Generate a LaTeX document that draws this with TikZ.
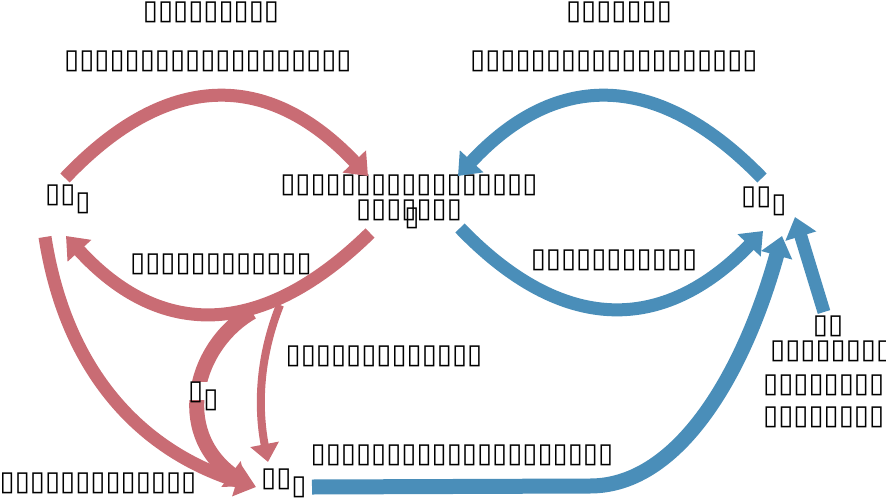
\documentclass[tikz,border=0pt]{standalone}
\usepackage{fontspec}
\usetikzlibrary{arrows.meta}
\newfontfamily\dvfont{DejaVu Sans}
\definecolor{redc}{HTML}{C96C74}
\definecolor{bluec}{HTML}{4A8EB9}
\newcommand\subbox{\raisebox{-8pt}{▯}}
\begin{document}
\begin{tikzpicture}[x=1pt,y=-1pt,
  lbl/.style={font=\dvfont\fontsize{27.5}{30}\selectfont, inner sep=0pt, text=black, text height=16pt, text depth=0pt},
  redarr/.style={draw=redc, line width=13pt, -{Triangle[width=31pt,length=20pt]}},
  bluearr/.style={draw=bluec, line width=13pt, -{Triangle[width=31pt,length=20pt]}},
  thinred/.style={draw=redc, line width=8pt, -{Triangle[width=28pt,length=18pt]}}]
\useasboundingbox (0,0) rectangle (886,498);
% labels
\node[lbl] (tl1) at (211,11) {▯▯▯▯▯▯▯▯▯};
\node[lbl] (tl2) at (208,60) {▯▯▯▯▯▯▯▯▯▯▯▯▯▯▯▯▯▯▯};
\node[lbl] (tr1) at (619,11) {▯▯▯▯▯▯▯};
\node[lbl] (tr2) at (614,60) {▯▯▯▯▯▯▯▯▯▯▯▯▯▯▯▯▯▯▯};
\node[lbl, anchor=base west] (nL) at (45,202) {▯▯\subbox};
\node[lbl, anchor=base west] (nR) at (741,204) {▯▯\subbox};
\node[lbl, anchor=base west] (nB) at (261,486) {▯▯\subbox};
\node[lbl] (nC1) at (409,184) {▯▯▯▯▯▯▯▯▯▯▯▯▯▯▯▯▯};
\node[lbl] (nC2) at (409,209) {▯▯▯\rlap{\hspace{3pt}\subbox}▯▯▯▯};
\node[lbl] (lb1) at (221,263) {▯▯▯▯▯▯▯▯▯▯▯▯};
\node[lbl] (lb2) at (614,259) {▯▯▯▯▯▯▯▯▯▯▯};
\node[lbl] (lb3) at (384,355) {▯▯▯▯▯▯▯▯▯▯▯▯▯};
\node[lbl] (lb4) at (98,482) {▯▯▯▯▯▯▯▯▯▯▯▯▯};
\node[lbl] (lb5) at (462,454) {▯▯▯▯▯▯▯▯▯▯▯▯▯▯▯▯▯▯▯▯};
\node[lbl] (r1) at (828,325) {▯▯};
\node[lbl, anchor=west] (r2) at (770,350) {▯▯▯▯▯▯▯▯▯▯};
\node[lbl, anchor=west] (r3) at (763,384) {▯▯▯▯▯▯▯▯▯▯};
\node[lbl, anchor=west] (r4) at (763,416) {▯▯▯▯▯▯▯▯▯▯};
% coordinates
\coordinate (a0) at (65,178);  \coordinate (a1) at (368,176);
\coordinate (b0) at (370,233); \coordinate (b1) at (66,236);
\coordinate (c0) at (45,237);  \coordinate (c1) at (256,487);
\coordinate (d0) at (252,312); \coordinate (d1) at (247,486);
\coordinate (e0) at (280,305); \coordinate (e1) at (268,462);
\coordinate (f0) at (762,178); \coordinate (f1) at (458,176);
\coordinate (g0) at (460,228); \coordinate (g1) at (763,231);
\coordinate (h0) at (312,487); \coordinate (h1) at (782,236);
\coordinate (i0) at (824,312); \coordinate (i1) at (795,217);
% red arrows
\draw[redarr] (a0) .. controls (166.7,70.7) and (267.7,70) .. (a1);
\draw[redarr] (b0) .. controls (262,338.7) and (160.7,339.7) .. (b1);
\draw[redarr] (c0) .. controls (65,365.7) and (135.3,449) .. (c1);
\draw[thinred] (e0) .. controls (258,360) and (258,410) .. (e1);
\draw[redarr, line width=15pt] (d0) .. controls (195,345) and (172,430) .. (d1);
\node[lbl, fill=white, inner sep=1pt, anchor=base west] (lb6) at (187,399) {▯\subbox};
% blue arrows
\draw[bluearr] (f0) .. controls (658,70.7) and (556.7,70) .. (f1);
\draw[bluearr] (g0) .. controls (561.7,333.7) and (662.7,334.7) .. (g1);
\draw[bluearr, line width=15pt] (h0) -- (590,486) .. controls (680,486) and (745,370) .. (h1);
\draw[bluearr] (i0) -- (i1);
\end{tikzpicture}
\end{document}
